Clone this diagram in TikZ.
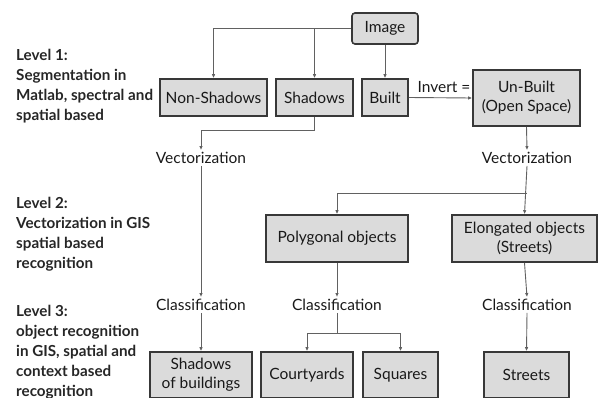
\documentclass[tikz,border=0pt]{standalone}
\usepackage{fontspec}
\setmainfont{Lato}
\usetikzlibrary{arrows.meta}
\begin{document}
\begin{tikzpicture}[x=1pt,y=-1pt,
 box/.style={draw=black!78, line width=1.6pt, fill=black!14, align=center, inner sep=0pt, font=\fontsize{15.5}{19}\selectfont, text=black!90},
 lbl/.style={font=\fontsize{15.5}{19}\selectfont, inner sep=2pt, text=black!90},
 lev/.style={font=\bfseries\fontsize{15.2}{20}\selectfont, align=left, anchor=base west, inner sep=0pt, text=black!85},
 conn/.style={draw=black!62, line width=0.9pt},
 arr/.style={conn, -{Latex[length=4pt,width=3.5pt]}}
]
\useasboundingbox (0,0) rectangle (599,397);
\clip (0,0) rectangle (599,397);
% level texts (base anchor = last line)
\node[lev] (l1) at (16,120.5) {Level 1:\\Segmentation in\\Matlab, spectral and\\spatial based};
\node[lev] (l2) at (16,268) {Level 2:\\Vectorization in GIS\\spatial based\\recognition};
\node[lev] (l3) at (16,396) {Level 3:\\object recognition\\in GIS, spatial and\\context based\\recognition};
% boxes
\node[box, rounded corners=3pt, minimum width=66, minimum height=31] (img) at (385,28.5) {Image};
\node[box, minimum width=107, minimum height=37] (ns) at (213.5,97.5) {Non-Shadows};
\node[box, minimum width=77, minimum height=37] (sh) at (314.5,97.5) {Shadows};
\node[box, minimum width=46, minimum height=37] (bu) at (385,97.5) {Built};
\node[box, minimum width=107, minimum height=56] (ub) at (526.5,98) {Un-Built\\(Open Space)};
\node[box, minimum width=142, minimum height=47] (po) at (337,238.5) {Polygonal objects};
\node[box, minimum width=145, minimum height=47] (el) at (524.5,238.5) {Elongated objects\\(Streets)};
\node[box, minimum width=102, minimum height=46] (sb) at (201,375) {Shadows\\of buildings};
\node[box, minimum width=92, minimum height=46] (cy) at (307,375) {Courtyards};
\node[box, minimum width=75, minimum height=46] (sq) at (400.5,375) {Squares};
\node[box, minimum width=85, minimum height=46] (st) at (526.5,375) {Streets};
% labels
\node[lbl] (v1) at (201,158) {Vectorization};
\node[lbl] (v2) at (527,158) {Vectorization};
\node[lbl] (c1) at (201,305) {Classification};
\node[lbl] (c2) at (337,305) {Classification};
\node[lbl] (c3) at (527,305) {Classification};
\node[lbl, anchor=south] (inv) at (444,95) {Invert =};
% junctions
\coordinate (j1) at (314.5,130);
\coordinate (j2) at (527,193);
\coordinate (j3) at (337,333);
% connectors
\draw[arr] (img.west) -| (ns.north);
\draw[arr] (img.west -| sh.north) -- (sh.north);
\draw[arr] (img.south) -- (bu.north);
\draw[arr] (bu.east) -- (ub.west);
\draw[conn] (sh.south) -- (j1);
\draw[arr] (j1) -| (v1.north);
\draw[arr] (ub.south) -- (v2.north);
\draw[arr] (v2.south) -- (el.north);
\draw[arr] (j2) -| (po.north);
\draw[arr] (v1.south) -- (c1.north);
\draw[arr] (po.south) -- (c2.north);
\draw[arr] (el.south) -- (c3.north);
\draw[conn] (c2.south) -- (j3);
\draw[arr] (j3) -| (cy.north);
\draw[arr] (j3) -| (sq.north);
\draw[arr] (c1.south) -- (sb.north);
\draw[arr] (c3.south) -- (st.north);
\end{tikzpicture}
\end{document}
